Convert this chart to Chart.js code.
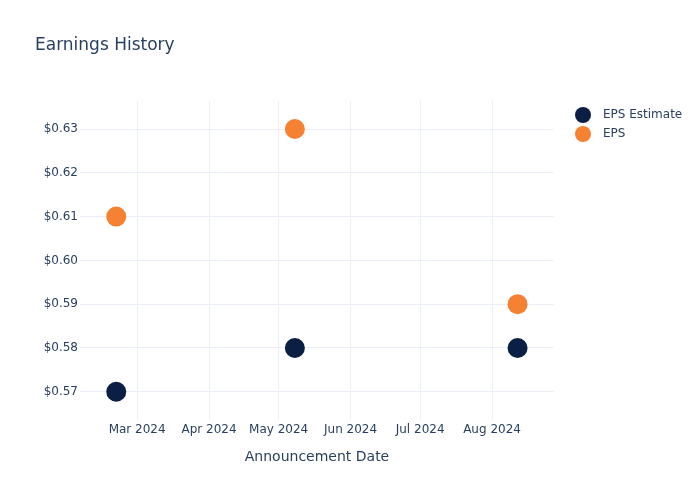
<!DOCTYPE html>
<html>
<head>
<meta charset="utf-8">
<script src="https://cdn.jsdelivr.net/npm/chart.js@4.4.1/dist/chart.umd.min.js"></script>
<style>
  html, body { margin: 0; padding: 0; background: #fff; }
  #wrap { width: 700px; height: 500px; }
</style>
</head>
<body>
<div id="wrap"><canvas id="epsChart" width="700" height="500"></canvas></div>
<script>
// data
const announceDates = ['2024-02-21', '2024-05-08', '2024-08-12'];
const epsEstimate = [0.57, 0.58, 0.58];
const epsActual = [0.61, 0.63, 0.59];
const seriesNames = ['EPS Estimate', 'EPS'];
const seriesColors = ['#0b1f44', '#f58232'];
const yTicks = [0.57, 0.58, 0.59, 0.60, 0.61, 0.62, 0.63];
const xTickDates = ['2024-03-01', '2024-04-01', '2024-05-01', '2024-06-01', '2024-07-01', '2024-08-01'];
const xTickLabels = ['Mar 2024', 'Apr 2024', 'May 2024', 'Jun 2024', 'Jul 2024', 'Aug 2024'];

const textColor = '#2a3f5f';
const gridColor = '#ebf0f8';
const fontFamily = "'DejaVu Sans', sans-serif";

const ts = d => new Date(d + 'T00:00:00Z').getTime();

function toPoints(values) {
    return values.map((v, i) => ({ x: ts(announceDates[i]), y: v }));
}

// legend drawn by hand so the marker/text spacing matches
const sideLegend = {
    id: 'sideLegend',
    afterDraw(chart) {
        const c = chart.ctx;
        c.save();
        c.font = '12px ' + fontFamily;
        c.textBaseline = 'middle';
        chart.data.datasets.forEach((ds, i) => {
            const y = 115 + i * 19;
            c.beginPath();
            c.arc(583, y, 8, 0, Math.PI * 2);
            c.fillStyle = ds.backgroundColor;
            c.fill();
            c.fillStyle = textColor;
            c.fillText(ds.label, 603, y);
        });
        c.restore();
    }
};

const ctx = document.getElementById('epsChart').getContext('2d');
const chart = new Chart(ctx, {
    type: 'scatter',
    data: {
        datasets: [
            {
                label: seriesNames[0],
                data: toPoints(epsEstimate),
                backgroundColor: seriesColors[0],
                borderWidth: 0,
                pointRadius: 10,
                pointHoverRadius: 10
            },
            {
                label: seriesNames[1],
                data: toPoints(epsActual),
                backgroundColor: seriesColors[1],
                borderWidth: 0,
                pointRadius: 10,
                pointHoverRadius: 10
            }
        ]
    },
    options: {
        responsive: false,
        animation: false,
        layout: { padding: { left: 35, right: 146, top: 0, bottom: 34 } },
        scales: {
            x: {
                type: 'linear',
                min: new Date('2024-02-05T09:00:00Z').getTime(),
                max: new Date('2024-08-27T17:00:00Z').getTime(),
                afterBuildTicks: s => { s.ticks = xTickDates.map(d => ({ value: ts(d) })); },
                grid: { color: gridColor, drawTicks: false },
                border: { display: false },
                ticks: {
                    autoSkip: false,
                    maxRotation: 0,
                    padding: 3,
                    color: textColor,
                    font: { family: fontFamily, size: 12 },
                    callback: (v) => {
                        const i = xTickDates.findIndex(d => ts(d) === v);
                        return i >= 0 ? xTickLabels[i] : '';
                    }
                },
                title: {
                    display: true,
                    text: 'Announcement Date',
                    color: textColor,
                    font: { family: fontFamily, size: 14 },
                    padding: { top: 9, bottom: 0 }
                }
            },
            y: {
                min: 0.5636,
                max: 0.6364,
                afterBuildTicks: s => { s.ticks = yTicks.map(v => ({ value: v })); },
                afterFit: s => { s.width = 45; },
                grid: { color: gridColor, drawTicks: false },
                border: { display: false },
                ticks: {
                    padding: 2,
                    color: textColor,
                    font: { family: fontFamily, size: 12 },
                    callback: v => '$' + v.toFixed(2)
                }
            }
        },
        plugins: {
            legend: { display: false },
            tooltip: { enabled: false },
            title: {
                display: true,
                text: 'Earnings History',
                align: 'start',
                color: textColor,
                font: { family: fontFamily, size: 17, weight: 'normal' },
                padding: { top: 35, bottom: 45.6 }
            }
        }
    },
    plugins: [sideLegend]
});
</script>
</body>
</html>
